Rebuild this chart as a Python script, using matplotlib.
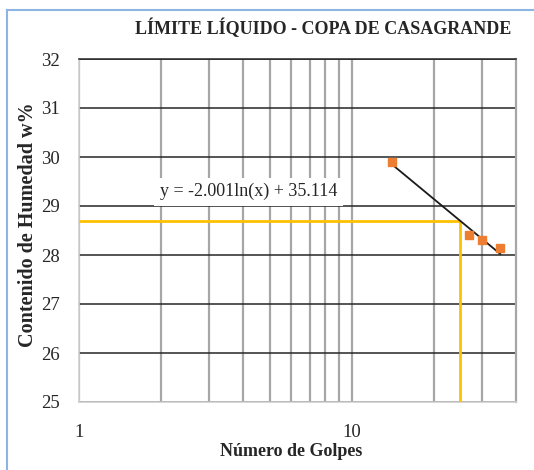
import numpy as np
import matplotlib
matplotlib.use("Agg")
import matplotlib.pyplot as plt
from matplotlib.lines import Line2D
from matplotlib.ticker import FixedLocator, NullFormatter

# Data
golpes = [14, 27, 30, 35]
humedad = [29.9, 28.4, 28.3, 28.15]
x_ll = 25
eq_label = "y = -2.001ln(x) + 35.114"
title = "LÍMITE LÍQUIDO - COPA DE CASAGRANDE"
xlabel = "Número de Golpes"
ylabel = "Contenido de Humedad w%"
xticklabels = ['1', '10']
yticks = [25, 26, 27, 28, 29, 30, 31, 32]

plt.rcParams['font.family'] = ['Liberation Serif', 'DejaVu Serif']
serif = ['Liberation Serif', 'DejaVu Serif']

fig = plt.figure(figsize=(5.34, 4.70), dpi=100)
ax = fig.add_axes([79/534, 1-402/470, (516-79)/534, (402-59)/470])

ax.set_xscale('log')
ax.set_xlim(1, 40)
ax.set_ylim(25, 32)

# grid
ax.xaxis.set_major_locator(FixedLocator([1, 10]))
ax.xaxis.set_minor_locator(FixedLocator([2, 3, 4, 5, 6, 7, 8, 9, 20, 30]))
ax.xaxis.set_minor_formatter(NullFormatter())
ax.set_xticklabels(xticklabels, family=serif)
ax.set_yticks(yticks)
ax.set_yticklabels([str(v) for v in yticks], family=serif)
ax.grid(True, axis='x', which='both', color='#a6a6a6', linewidth=1.6)
ax.grid(True, axis='y', which='major', color='#262626', linewidth=1.1)
ax.tick_params(which='both', length=0, labelsize=13.5, colors='#262626')
ax.tick_params(axis='x', pad=16)
ax.tick_params(axis='y', pad=14)
ax.set_axisbelow(True)

for s in ['left', 'bottom']:
    ax.spines[s].set_color('#d0d0d0')
    ax.spines[s].set_linewidth(1.2)
ax.spines['right'].set_color('#a6a6a6')
ax.spines['right'].set_linewidth(1.6)
ax.spines['top'].set_color('#262626')
ax.spines['top'].set_linewidth(1.1)

# trendline from data
coef = np.polyfit(np.log(golpes), humedad, 1)
xt = np.linspace(min(golpes), max(golpes), 100)
ax.plot(xt, coef[0]*np.log(xt) + coef[1], color='#1a1a1a', linewidth=1.3, zorder=4)

# liquid limit lines
y_ll = coef[0]*np.log(x_ll) + coef[1]
ax.plot([1, x_ll], [y_ll, y_ll], color='#FFC000', linewidth=2, zorder=3, solid_capstyle='butt')
ax.plot([x_ll, x_ll], [25, y_ll], color='#FFC000', linewidth=2, zorder=3, solid_capstyle='butt')

ax.plot(golpes, humedad, linestyle='none', marker='s', markersize=5.5,
        color='#ED7D31', zorder=5)

ax.text(4.19, 29.29, eq_label, ha='center', va='center', fontsize=13,
        color='#262626', family=serif,
        bbox=dict(facecolor='white', edgecolor='none', pad=4), zorder=6)

fig.text(323/534, 1-28/470, title, ha='center', va='center', fontsize=13,
         fontweight='bold', color='#262626', family=serif)
fig.text(291/534, 1-452/470, xlabel, ha='center', va='center', fontsize=13,
         fontweight='bold', color='#262626', family=serif)
fig.text(28/534, 1-225/470, ylabel, ha='center', va='center', fontsize=14.5,
         fontweight='bold', rotation=90, color='#262626', family=serif)

# blue border
fig.add_artist(Line2D([7/534, 1], [1-10/470, 1-10/470], transform=fig.transFigure,
                      color='#8EB4E3', linewidth=1.5))
fig.add_artist(Line2D([7/534, 7/534], [0, 1-10/470], transform=fig.transFigure,
                      color='#8EB4E3', linewidth=1.5))

fig.savefig('out.png', dpi=100)
